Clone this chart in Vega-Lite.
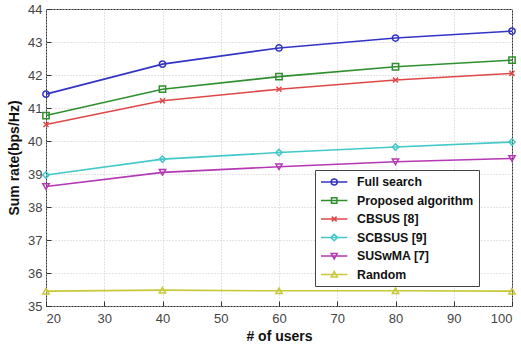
{
  "$schema": "https://vega.github.io/schema/vega-lite/v6.json",
  "width": 466,
  "height": 297,
  "autosize": {"type": "none"},
  "padding": {"left": 46, "top": 9, "right": 9, "bottom": 39},
  "background": "white",
  "config": {
    "font": "Liberation Sans",
    "view": {"stroke": "#333", "strokeWidth": 1},
    "axis": {
      "domain": false,
      "grid": true,
      "gridColor": "#c8c8c8",
      "gridDash": [1, 2],
      "gridWidth": 1,
      "tickColor": "#333",
      "tickSize": -5,
      "labelFont": "Liberation Sans",
      "labelFontSize": 13,
      "labelColor": "#444",
      "titleFont": "Liberation Sans",
      "titleFontSize": 14,
      "titleFontWeight": "bold",
      "titleColor": "#111"
    },
    "legend": {
      "title": null,
      "orient": "none",
      "legendX": 269,
      "legendY": 161,
      "strokeColor": "#444",
      "fillColor": "white",
      "padding": 5,
      "symbolSize": 144,
      "symbolStrokeWidth": 1.5,
      "labelFont": "Liberation Sans",
      "labelFontSize": 12.3,
      "labelFontWeight": "bold",
      "labelColor": "#111",
      "labelOffset": 23,
      "rowPadding": 4.5
    }
  },
  "data": {
    "values": [
      {"users": 20, "rate": 41.42, "series": "Full search"},
      {"users": 40, "rate": 42.33, "series": "Full search"},
      {"users": 60, "rate": 42.82, "series": "Full search"},
      {"users": 80, "rate": 43.12, "series": "Full search"},
      {"users": 100, "rate": 43.33, "series": "Full search"},
      {"users": 20, "rate": 40.77, "series": "Proposed algorithm"},
      {"users": 40, "rate": 41.57, "series": "Proposed algorithm"},
      {"users": 60, "rate": 41.95, "series": "Proposed algorithm"},
      {"users": 80, "rate": 42.25, "series": "Proposed algorithm"},
      {"users": 100, "rate": 42.45, "series": "Proposed algorithm"},
      {"users": 20, "rate": 40.5, "series": "CBSUS [8]"},
      {"users": 40, "rate": 41.22, "series": "CBSUS [8]"},
      {"users": 60, "rate": 41.57, "series": "CBSUS [8]"},
      {"users": 80, "rate": 41.85, "series": "CBSUS [8]"},
      {"users": 100, "rate": 42.05, "series": "CBSUS [8]"},
      {"users": 20, "rate": 38.97, "series": "SCBSUS [9]"},
      {"users": 40, "rate": 39.45, "series": "SCBSUS [9]"},
      {"users": 60, "rate": 39.65, "series": "SCBSUS [9]"},
      {"users": 80, "rate": 39.82, "series": "SCBSUS [9]"},
      {"users": 100, "rate": 39.97, "series": "SCBSUS [9]"},
      {"users": 20, "rate": 38.62, "series": "SUSwMA [7]"},
      {"users": 40, "rate": 39.05, "series": "SUSwMA [7]"},
      {"users": 60, "rate": 39.22, "series": "SUSwMA [7]"},
      {"users": 80, "rate": 39.37, "series": "SUSwMA [7]"},
      {"users": 100, "rate": 39.47, "series": "SUSwMA [7]"},
      {"users": 20, "rate": 35.45, "series": "Random"},
      {"users": 40, "rate": 35.48, "series": "Random"},
      {"users": 60, "rate": 35.46, "series": "Random"},
      {"users": 80, "rate": 35.46, "series": "Random"},
      {"users": 100, "rate": 35.45, "series": "Random"}
    ]
  },
  "encoding": {
    "x": {
      "field": "users",
      "type": "quantitative",
      "title": "# of users",
      "scale": {"domain": [20, 100], "nice": false, "zero": false},
      "axis": {"values": [20, 30, 40, 50, 60, 70, 80, 90, 100], "labelPadding": 11, "titlePadding": 4}
    },
    "y": {
      "field": "rate",
      "type": "quantitative",
      "title": "Sum rate(bps/Hz)",
      "scale": {"domain": [35, 44], "nice": false, "zero": false},
      "axis": {"values": [35, 36, 37, 38, 39, 40, 41, 42, 43, 44], "labelPadding": 9, "titlePadding": 6}
    }
  },
  "layer": [
    {
      "mark": {"type": "line", "strokeWidth": 1.6},
      "encoding": {
        "color": {
          "field": "series",
          "type": "nominal",
          "scale": {
            "domain": ["Full search", "Proposed algorithm", "CBSUS [8]", "SCBSUS [9]", "SUSwMA [7]", "Random"],
            "range": ["#3434c4", "#2f8f2f", "#e04848", "#44c8c8", "#b438b4", "#c8c838"]
          },
          "legend": null
        }
      }
    },
    {
      "mark": {"type": "point", "filled": false, "size": 40, "strokeWidth": 1.5, "opacity": 1},
      "encoding": {
        "color": {
          "field": "series",
          "type": "nominal",
          "scale": {
            "domain": ["Full search", "Proposed algorithm", "CBSUS [8]", "SCBSUS [9]", "SUSwMA [7]", "Random"],
            "range": ["#3434c4", "#2f8f2f", "#e04848", "#44c8c8", "#b438b4", "#c8c838"]
          },
          "legend": null
        },
        "shape": {
          "field": "series",
          "type": "nominal",
          "scale": {
            "domain": ["Full search", "Proposed algorithm", "CBSUS [8]", "SCBSUS [9]", "SUSwMA [7]", "Random"],
            "range": ["circle", "square", "M-0.8,-0.8L0.8,0.8M-0.8,0.8L0.8,-0.8", "diamond", "triangle-down", "triangle-up"]
          },
          "legend": null
        }
      }
    },
    {
      "transform": [{"filter": "false"}],
      "mark": {"type": "point", "filled": false, "strokeWidth": 1.5, "opacity": 1},
      "encoding": {
        "color": {
          "field": "series",
          "type": "nominal",
          "scale": {
            "domain": ["Full search", "Proposed algorithm", "CBSUS [8]", "SCBSUS [9]", "SUSwMA [7]", "Random"],
            "range": ["#3434c4", "#2f8f2f", "#e04848", "#44c8c8", "#b438b4", "#c8c838"]
          },
          "legend": {"title": null}
        },
        "shape": {
          "field": "series",
          "type": "nominal",
          "scale": {
            "domain": ["Full search", "Proposed algorithm", "CBSUS [8]", "SCBSUS [9]", "SUSwMA [7]", "Random"],
            "range": [
              "M-1,0H3.4M0.7,0A0.5,0.5 0 1,0 1.7,0A0.5,0.5 0 1,0 0.7,0",
              "M-1,0H3.4M0.75,-0.45H1.65V0.45H0.75Z",
              "M-1,0H3.4M0.8,-0.4L1.6,0.4M0.8,0.4L1.6,-0.4",
              "M-1,0H3.4M1.2,-0.55L1.75,0L1.2,0.55L0.65,0Z",
              "M-1,0H3.4M0.7,-0.4H1.7L1.2,0.5Z",
              "M-1,0H3.4M0.7,0.4H1.7L1.2,-0.5Z"
            ]
          },
          "legend": {"title": null}
        }
      }
    }
  ],
  "resolve": {"scale": {"shape": "independent", "color": "independent"}}
}
